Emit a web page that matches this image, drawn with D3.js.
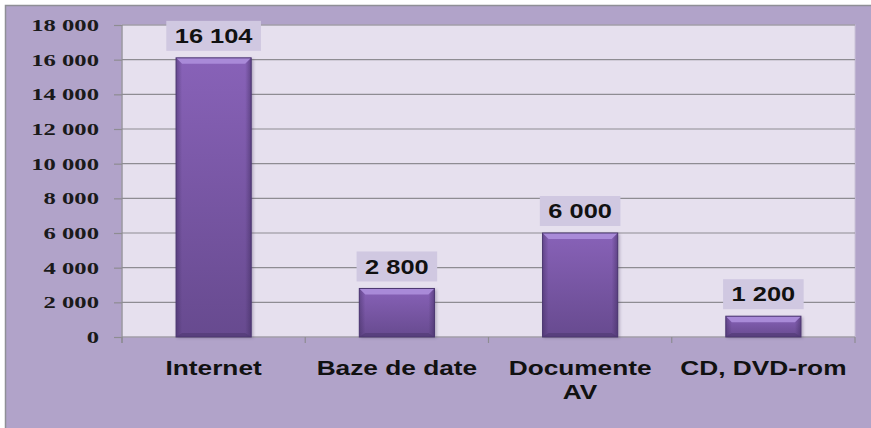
<!DOCTYPE html>
<html>
<head>
<meta charset="utf-8">
<script src="https://cdnjs.cloudflare.com/ajax/libs/d3/7.8.5/d3.min.js"></script>
<style>
  html, body { margin: 0; padding: 0; background: #fff; }
  svg { display: block; }
</style>
</head>
<body>
<svg id="chart" width="871" height="428"></svg>
<script>
// data
var categories = ["Internet", "Baze de date", "Documente AV", "CD, DVD-rom"];
var catLines = [["Internet"], ["Baze de date"], ["Documente", "AV"], ["CD, DVD-rom"]];
var values = [16104, 2800, 6000, 1200];
var yTicks = [0, 2000, 4000, 6000, 8000, 10000, 12000, 14000, 16000, 18000];

var svg = d3.select("#chart"),
    width = +svg.attr("width"),
    height = +svg.attr("height");

// text in the original is stretched sideways
var sx = 1.27;

var ro = d3.formatLocale({decimal: ",", thousands: " ", grouping: [3], currency: ["", ""]});
var fmt = ro.format(",d");

var plot = {left: 122, right: 855, top: 25, bottom: 337};

var x = d3.scaleBand()
    .domain(categories)
    .range([plot.left, plot.right])
    .padding(0);

var y = d3.scaleLinear()
    .domain([0, 18000])
    .range([plot.bottom, plot.top]);

var defs = svg.append("defs");

var g1 = defs.append("linearGradient").attr("id", "barFill")
    .attr("x1", 0).attr("y1", 0).attr("x2", 0).attr("y2", 1);
g1.append("stop").attr("offset", "0%").attr("stop-color", "#8862b8");
g1.append("stop").attr("offset", "100%").attr("stop-color", "#674a8f");

var g2 = defs.append("linearGradient").attr("id", "barSide")
    .attr("x1", 0).attr("y1", 0).attr("x2", 1).attr("y2", 0);
g2.append("stop").attr("offset", "0%").attr("stop-color", "#3d2a5c").attr("stop-opacity", 0.45);
g2.append("stop").attr("offset", "8%").attr("stop-color", "#3d2a5c").attr("stop-opacity", 0);
g2.append("stop").attr("offset", "92%").attr("stop-color", "#3d2a5c").attr("stop-opacity", 0);
g2.append("stop").attr("offset", "100%").attr("stop-color", "#3d2a5c").attr("stop-opacity", 0.5);

var blur = defs.append("filter").attr("id", "shadow")
    .attr("x", "-20%").attr("y", "-20%").attr("width", "140%").attr("height", "140%");
blur.append("feGaussianBlur").attr("stdDeviation", 1.5);

// background
svg.append("rect")
    .attr("x", 5).attr("y", 5)
    .attr("width", width - 5).attr("height", height - 5)
    .attr("fill", "#b1a3c9");

svg.append("path")
    .attr("d", "M5.5," + height + "V5.5H" + width)
    .attr("fill", "none")
    .attr("stroke", "#8f8f96")
    .attr("stroke-width", 1.5);

// plot area
svg.append("rect")
    .attr("x", plot.left).attr("y", plot.top)
    .attr("width", plot.right - plot.left).attr("height", plot.bottom - plot.top)
    .attr("fill", "#e6e0ee")
    .attr("stroke", "#cbc3d8")
    .attr("stroke-width", 1);

// gridlines
svg.append("g")
    .selectAll("line")
    .data(yTicks.filter(function (d) { return d > 0; }))
    .enter().append("line")
    .attr("x1", plot.left).attr("x2", plot.right)
    .attr("y1", function (d) { return y(d); })
    .attr("y2", function (d) { return y(d); })
    .attr("stroke", "#8e8c92")
    .attr("stroke-width", 1.2);

// y axis
var yAxis = svg.append("g")
    .attr("transform", "translate(" + plot.left + ",0)")
    .call(d3.axisLeft(y).tickValues(yTicks).tickSize(8).tickFormat(""));
yAxis.select(".domain").remove();
yAxis.selectAll("line").attr("stroke", "#8e8c92").attr("stroke-width", 1.2);
svg.append("line")
    .attr("x1", plot.left).attr("x2", plot.left)
    .attr("y1", plot.top).attr("y2", plot.bottom + 6)
    .attr("stroke", "#8e8c92").attr("stroke-width", 1.2);

svg.append("g")
    .selectAll("text")
    .data(yTicks)
    .enter().append("text")
    .attr("transform", function (d) { return "translate(99," + y(d) + ") scale(1.45,1)"; })
    .attr("dy", "0.36em")
    .attr("text-anchor", "end")
    .attr("font-family", "'Liberation Serif', serif")
    .attr("font-weight", "bold")
    .attr("font-size", 17)
    .attr("fill", "#1a1a1a")
    .text(function (d) { return fmt(d); });

// x axis
var bounds = categories.map(function (c) { return x(c); }).concat([plot.right]);
svg.append("line")
    .attr("x1", plot.left).attr("x2", plot.right)
    .attr("y1", plot.bottom).attr("y2", plot.bottom)
    .attr("stroke", "#8e8c92").attr("stroke-width", 1.2);
svg.append("g")
    .selectAll("line")
    .data(bounds)
    .enter().append("line")
    .attr("x1", function (d) { return d; }).attr("x2", function (d) { return d; })
    .attr("y1", plot.bottom).attr("y2", plot.bottom + 6)
    .attr("stroke", "#8e8c92").attr("stroke-width", 1.2);

// bars
var bw = x.bandwidth() * 0.41;
var bev = 6;
var bars = svg.append("g")
    .selectAll("g")
    .data(values)
    .enter().append("g")
    .attr("transform", function (d, i) {
        return "translate(" + (x(categories[i]) + x.bandwidth() / 2 - bw / 2) + ",0)";
    });

bars.append("rect")
    .attr("x", 1).attr("y", function (d) { return y(d) + 1; })
    .attr("width", bw + 1).attr("height", function (d) { return y(0) - y(d); })
    .attr("fill", "#4a3a60").attr("opacity", 0.35)
    .attr("filter", "url(#shadow)");

bars.append("rect")
    .attr("y", function (d) { return y(d); })
    .attr("width", bw).attr("height", function (d) { return y(0) - y(d); })
    .attr("fill", "url(#barFill)");

bars.append("rect")
    .attr("y", function (d) { return y(d); })
    .attr("width", bw).attr("height", function (d) { return y(0) - y(d); })
    .attr("fill", "url(#barSide)");

// top bevel
bars.append("path")
    .attr("d", function (d) {
        var t = y(d);
        return "M0," + t + "H" + bw + "L" + (bw - bev) + "," + (t + bev) + "H" + bev + "Z";
    })
    .attr("fill", "#a98ad8");

// bottom bevel
bars.append("path")
    .attr("d", function (d) {
        var b = y(0);
        return "M0," + b + "H" + bw + "L" + (bw - bev) + "," + (b - bev + 2) + "H" + bev + "Z";
    })
    .attr("fill", "#4f3872").attr("opacity", 0.6);

bars.append("rect")
    .attr("y", function (d) { return y(d); })
    .attr("width", bw).attr("height", function (d) { return y(0) - y(d); })
    .attr("fill", "none")
    .attr("stroke", "#4b3670").attr("stroke-width", 1);

// value labels
var labels = svg.append("g")
    .selectAll("g")
    .data(values)
    .enter().append("g")
    .attr("transform", function (d, i) {
        return "translate(" + (x(categories[i]) + x.bandwidth() / 2) + "," + (y(d) - 22) + ")";
    });

labels.append("text")
    .attr("transform", "scale(" + sx + ",1)")
    .attr("dy", "0.36em")
    .attr("text-anchor", "middle")
    .attr("font-family", "'Liberation Sans', Arial, sans-serif")
    .attr("font-weight", "bold")
    .attr("font-size", 20)
    .attr("fill", "#111")
    .text(function (d) { return fmt(d); })
    .each(function () {
        var w = this.getComputedTextLength() * sx + 17;
        d3.select(this.parentNode).insert("rect", "text")
            .attr("x", -w / 2).attr("y", -15)
            .attr("width", w).attr("height", 30)
            .attr("fill", "#d0c8e1");
    });

// category labels
svg.append("g")
    .selectAll("text")
    .data(catLines)
    .enter().append("text")
    .attr("transform", function (d, i) {
        return "translate(" + (x(categories[i]) + x.bandwidth() / 2) + ",375) scale(1.25,1)";
    })
    .attr("text-anchor", "middle")
    .attr("font-family", "'Liberation Sans', Arial, sans-serif")
    .attr("font-weight", "bold")
    .attr("font-size", 21)
    .attr("fill", "#111")
    .selectAll("tspan")
    .data(function (d) { return d; })
    .enter().append("tspan")
    .attr("x", 0)
    .attr("dy", function (d, i) { return i === 0 ? 0 : 24.5; })
    .text(function (d) { return d; });
</script>
</body>
</html>
